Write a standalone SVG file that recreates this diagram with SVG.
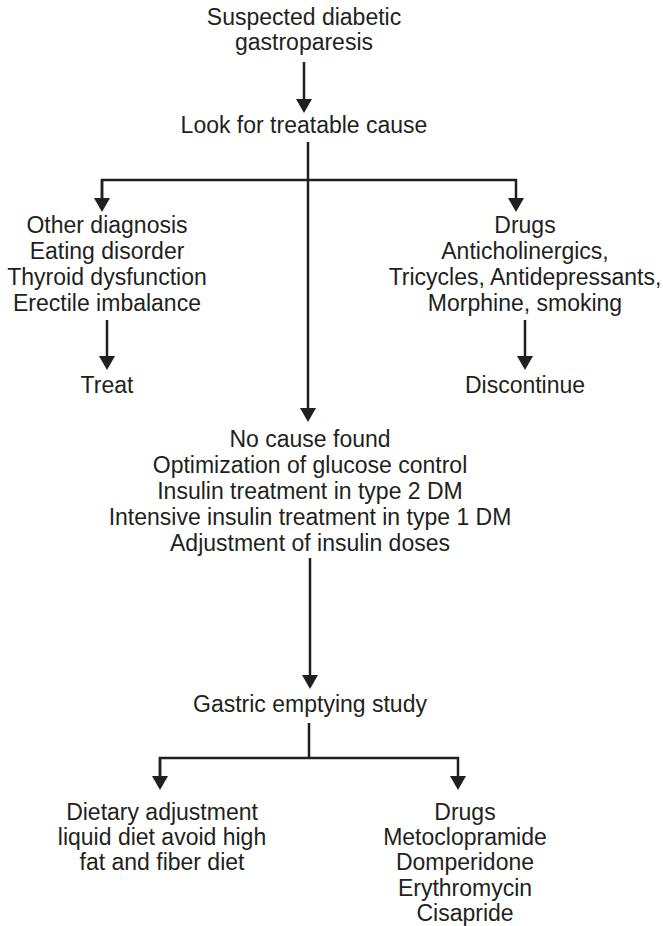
<svg xmlns="http://www.w3.org/2000/svg" width="663" height="926" viewBox="0 0 663 926">
<style>
  text { font-family: "Liberation Sans", Arial, sans-serif; font-size: 23px; fill: #231f20; text-anchor: middle; }
  .c { fill: none; stroke: #231f20; stroke-width: 2.5; }
</style>
<defs>
  <marker id="ah" viewBox="0 0 14 16" refX="10" refY="8" markerWidth="14" markerHeight="16" markerUnits="userSpaceOnUse" orient="auto">
    <path d="M0,0 L14,8 L0,16 Z" fill="#231f20"/>
  </marker>
</defs>
<rect width="663" height="926" fill="#ffffff"/>
<g id="connectors">
  <path class="c" d="M304,62 V109" marker-end="url(#ah)"/>
  <path class="c" d="M308,142 V418" marker-end="url(#ah)"/>
  <path class="c" d="M102,208 V180 H516 V208" marker-end="url(#ah)"/>
  <path class="c" d="M102,180 V208" marker-end="url(#ah)"/>
  <path class="c" d="M107,320 V366" marker-end="url(#ah)"/>
  <path class="c" d="M525,320 V366" marker-end="url(#ah)"/>
  <path class="c" d="M310,558 V685" marker-end="url(#ah)"/>
  <path class="c" d="M309,723 V758"/>
  <path class="c" d="M160,786 V758 H458 V786" marker-end="url(#ah)"/>
  <path class="c" d="M160,758 V786" marker-end="url(#ah)"/>
</g>
<g id="start">
  <text x="304" y="25">Suspected diabetic</text>
  <text x="304" y="50">gastroparesis</text>
</g>
<g id="look">
  <text x="304" y="133">Look for treatable cause</text>
</g>
<g id="other">
  <text x="107" y="233">Other diagnosis</text>
  <text x="107" y="259">Eating disorder</text>
  <text x="107" y="285">Thyroid dysfunction</text>
  <text x="107" y="311">Erectile imbalance</text>
</g>
<g id="treat">
  <text x="107" y="393">Treat</text>
</g>
<g id="drugs1">
  <text x="525" y="233">Drugs</text>
  <text x="525" y="259">Anticholinergics,</text>
  <text x="525" y="285">Tricycles, Antidepressants,</text>
  <text x="525" y="311">Morphine, smoking</text>
</g>
<g id="discontinue">
  <text x="525" y="393">Discontinue</text>
</g>
<g id="nocause">
  <text x="310" y="447">No cause found</text>
  <text x="310" y="473">Optimization of glucose control</text>
  <text x="310" y="499">Insulin treatment in type 2 DM</text>
  <text x="310" y="525">Intensive insulin treatment in type 1 DM</text>
  <text x="310" y="551">Adjustment of insulin doses</text>
</g>
<g id="gastric">
  <text x="310" y="712">Gastric emptying study</text>
</g>
<g id="dietary">
  <text x="162" y="820">Dietary adjustment</text>
  <text x="162" y="845">liquid diet avoid high</text>
  <text x="162" y="870">fat and fiber diet</text>
</g>
<g id="drugs2">
  <text x="465" y="820">Drugs</text>
  <text x="465" y="845">Metoclopramide</text>
  <text x="465" y="870">Domperidone</text>
  <text x="465" y="896">Erythromycin</text>
  <text x="465" y="921">Cisapride</text>
</g>
</svg>
